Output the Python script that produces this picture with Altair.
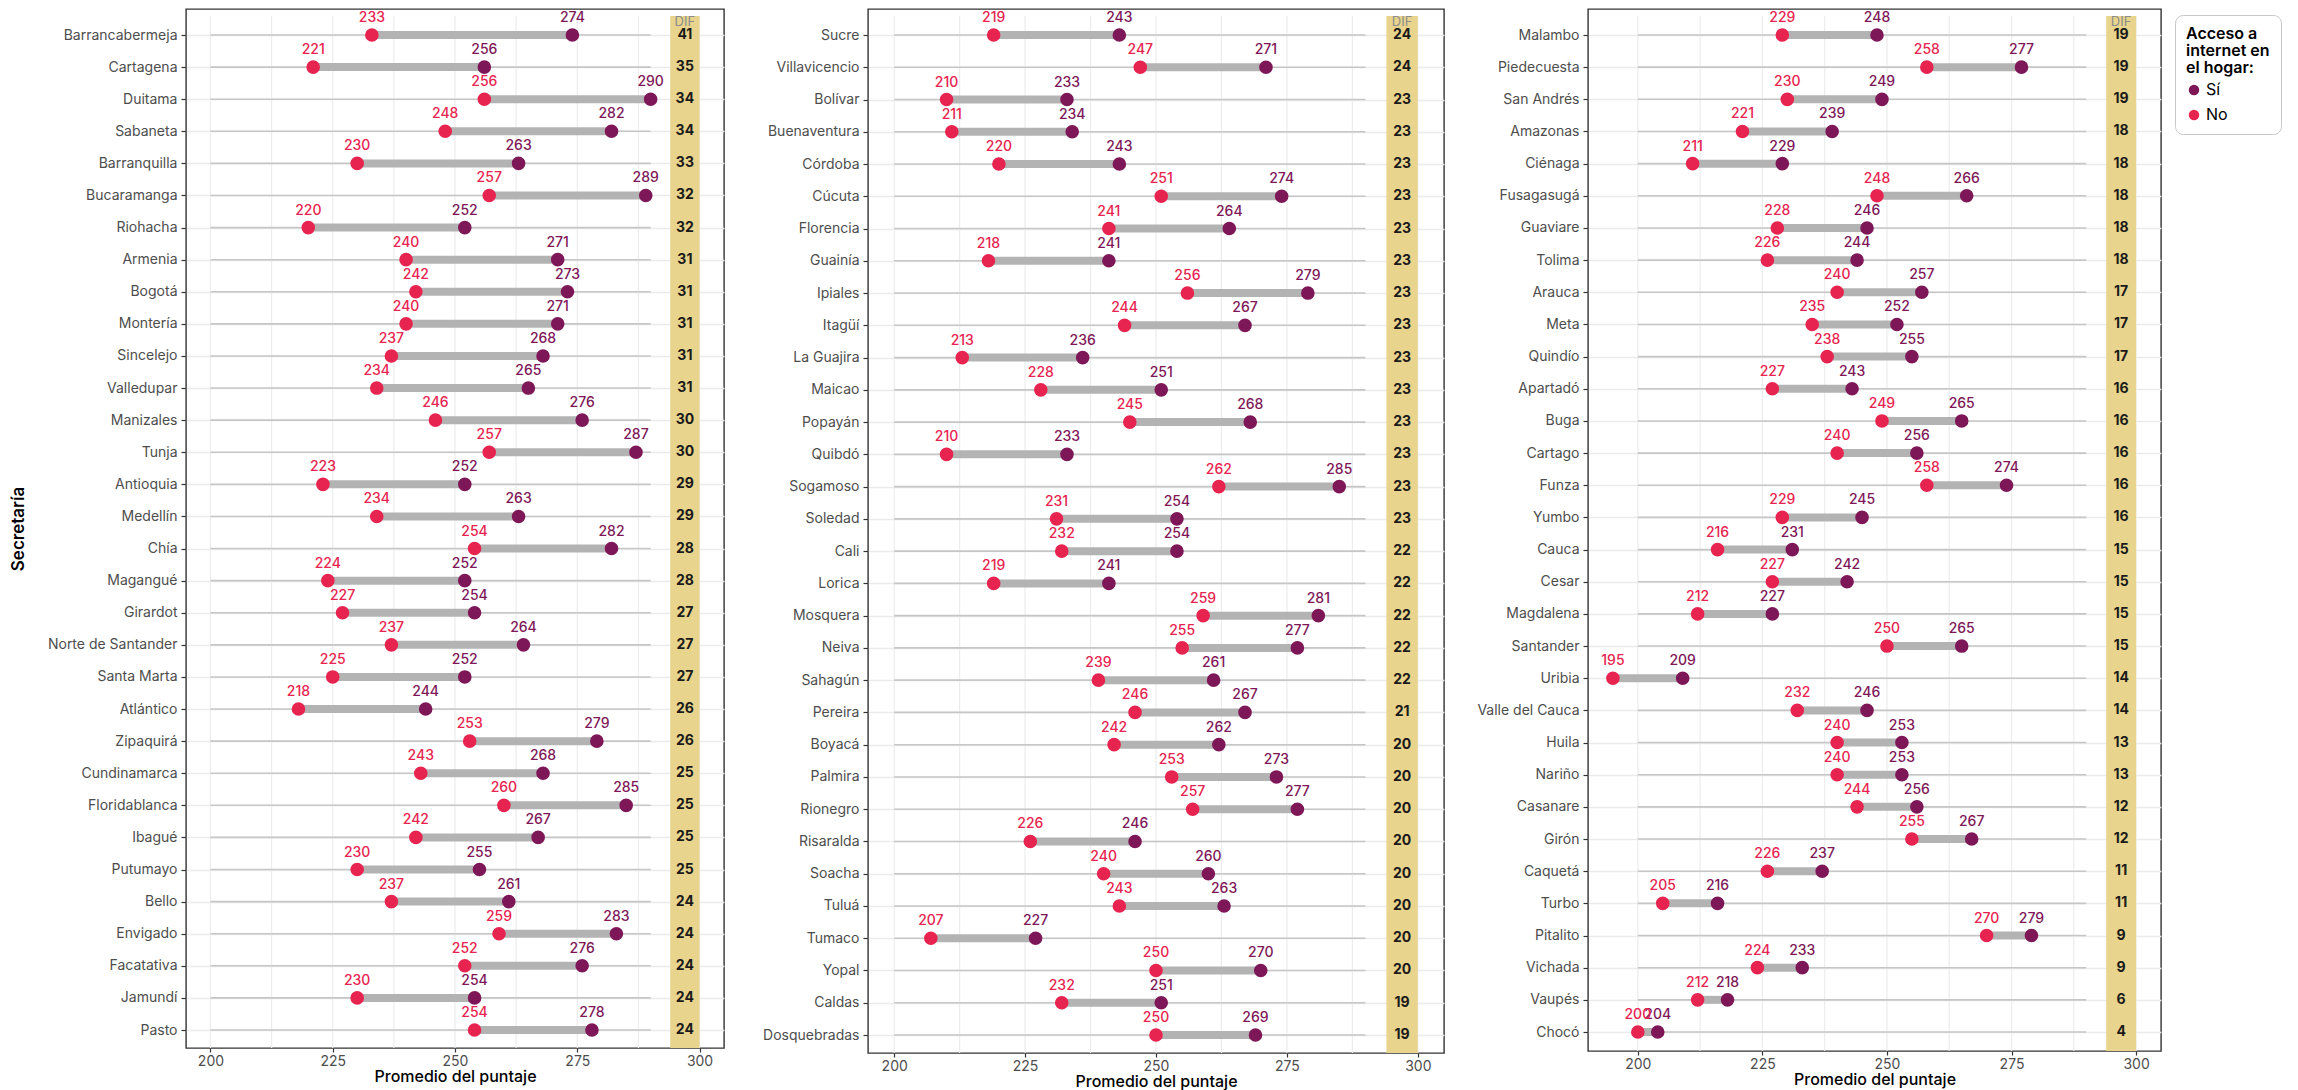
import altair as alt
import pandas as pd

# ---------------- data ----------------
P1_SEC = ["Barrancabermeja", "Cartagena", "Duitama", "Sabaneta", "Barranquilla", "Bucaramanga",
          "Riohacha", "Armenia", "Bogotá", "Montería", "Sincelejo", "Valledupar", "Manizales",
          "Tunja", "Antioquia", "Medellín", "Chía", "Magangué", "Girardot", "Norte de Santander",
          "Santa Marta", "Atlántico", "Zipaquirá", "Cundinamarca", "Floridablanca", "Ibagué",
          "Putumayo", "Bello", "Envigado", "Facatativa", "Jamundí", "Pasto"]
P1_NO = [233, 221, 256, 248, 230, 257, 220, 240, 242, 240, 237, 234, 246, 257, 223, 234,
         254, 224, 227, 237, 225, 218, 253, 243, 260, 242, 230, 237, 259, 252, 230, 254]
P1_SI = [274, 256, 290, 282, 263, 289, 252, 271, 273, 271, 268, 265, 276, 287, 252, 263,
         282, 252, 254, 264, 252, 244, 279, 268, 285, 267, 255, 261, 283, 276, 254, 278]
P1_DIF = [41, 35, 34, 34, 33, 32, 32, 31, 31, 31, 31, 31, 30, 30, 29, 29,
          28, 28, 27, 27, 27, 26, 26, 25, 25, 25, 25, 24, 24, 24, 24, 24]

P2_SEC = ["Sucre", "Villavicencio", "Bolívar", "Buenaventura", "Córdoba", "Cúcuta", "Florencia",
          "Guainía", "Ipiales", "Itagüí", "La Guajira", "Maicao", "Popayán", "Quibdó", "Sogamoso",
          "Soledad", "Cali", "Lorica", "Mosquera", "Neiva", "Sahagún", "Pereira", "Boyacá",
          "Palmira", "Rionegro", "Risaralda", "Soacha", "Tuluá", "Tumaco", "Yopal", "Caldas",
          "Dosquebradas"]
P2_NO = [219, 247, 210, 211, 220, 251, 241, 218, 256, 244, 213, 228, 245, 210, 262, 231,
         232, 219, 259, 255, 239, 246, 242, 253, 257, 226, 240, 243, 207, 250, 232, 250]
P2_SI = [243, 271, 233, 234, 243, 274, 264, 241, 279, 267, 236, 251, 268, 233, 285, 254,
         254, 241, 281, 277, 261, 267, 262, 273, 277, 246, 260, 263, 227, 270, 251, 269]
P2_DIF = [24, 24, 23, 23, 23, 23, 23, 23, 23, 23, 23, 23, 23, 23, 23, 23,
          22, 22, 22, 22, 22, 21, 20, 20, 20, 20, 20, 20, 20, 20, 19, 19]

P3_SEC = ["Malambo", "Piedecuesta", "San Andrés", "Amazonas", "Ciénaga", "Fusagasugá", "Guaviare",
          "Tolima", "Arauca", "Meta", "Quindío", "Apartadó", "Buga", "Cartago", "Funza", "Yumbo",
          "Cauca", "Cesar", "Magdalena", "Santander", "Uribia", "Valle del Cauca", "Huila",
          "Nariño", "Casanare", "Girón", "Caquetá", "Turbo", "Pitalito", "Vichada", "Vaupés",
          "Chocó"]
P3_NO = [229, 258, 230, 221, 211, 248, 228, 226, 240, 235, 238, 227, 249, 240, 258, 229,
         216, 227, 212, 250, 195, 232, 240, 240, 244, 255, 226, 205, 270, 224, 212, 200]
P3_SI = [248, 277, 249, 239, 229, 266, 246, 244, 257, 252, 255, 243, 265, 256, 274, 245,
         231, 242, 227, 265, 209, 246, 253, 253, 256, 267, 237, 216, 279, 233, 218, 204]
P3_DIF = [19, 19, 19, 18, 18, 18, 18, 18, 17, 17, 17, 16, 16, 16, 16, 16,
          15, 15, 15, 15, 14, 14, 13, 13, 12, 12, 11, 11, 9, 9, 6, 4]

GROUPS = ["Sí", "No"]
TICKS_X = [200, 225, 250, 275, 300]
GRID_X = [200, 212.5, 225, 237.5, 250, 262.5, 275, 287.5, 300]
ROW_LINE = [200, 290]
BAND_X = [294, 300]
DIF_X = 297

# ---------------- style ----------------
FONT = "Inter"
COL_SI = "#7E1758"
COL_NO = "#E7234F"
COL_BAND = "#E8D48C"
COL_SEG = "#B3B3B3"
COL_ROW = "#C6C6C6"


def panel(sec, no, si, dif, width, height, xdom, row_range, ytitle, legend):
    df = pd.DataFrame({"sec": sec, "no": no, "si": si, "dif": dif})
    base = alt.Chart(df)

    xs = alt.Scale(domain=xdom, nice=False, zero=False)
    xaxis = alt.Axis(values=TICKS_X, grid=False, domain=False, tickSize=4, tickColor="#333333",
                     tickWidth=1.2, labelFontSize=14, labelColor="#4D4D4D", labelPadding=2,
                     titleFontSize=16, titleFontWeight=500, titleColor="black", titlePadding=0)
    xtitle = "Promedio del puntaje"

    def X(field=None, datum=None):
        if datum is not None:
            return alt.X(datum=datum, type="quantitative", scale=xs, axis=xaxis, title=xtitle)
        return alt.X(field, type="quantitative", scale=xs, axis=xaxis, title=xtitle)

    if ytitle:
        yaxis = alt.Axis(grid=True, gridColor="#EBEBEB", gridWidth=1.5, domain=False, tickSize=5,
                         tickColor="#333333", tickWidth=1.2, labelFontSize=14,
                         labelColor="#4D4D4D", labelPadding=4, titleFontSize=17,
                         titleFontWeight=600, titleColor="black", titleAngle=270,
                         titleX=-168, titleY=height / 2, titleAlign="center",
                         titleBaseline="middle")
        yt = ytitle
    else:
        yaxis = alt.Axis(grid=True, gridColor="#EBEBEB", gridWidth=1.5, domain=False, tickSize=5,
                         tickColor="#333333", tickWidth=1.2, labelFontSize=14,
                         labelColor="#4D4D4D", labelPadding=4)
        yt = None
    Y = alt.Y("sec:N", sort=sec, scale=alt.Scale(type="point", range=row_range, padding=0),
              axis=yaxis, title=yt)

    if legend:
        leg = alt.Legend(title=["Acceso a", "internet en", "el hogar:"], orient="none",
                         legendX=width + 14, legendY=6, strokeColor="#C8C8C8", cornerRadius=8,
                         padding=11, fillColor="white", titleFontSize=16, titleFontWeight=600,
                         titleColor="black", titleLineHeight=17, titlePadding=6,
                         labelFontSize=16, labelColor="black", symbolType="circle",
                         symbolSize=110, symbolStrokeWidth=0, rowPadding=9, labelOffset=4)
    else:
        leg = None
    color = alt.Color("grupo:N", scale=alt.Scale(domain=GROUPS, range=[COL_SI, COL_NO]),
                      legend=leg)

    grid = alt.Chart(pd.DataFrame({"g": GRID_X})).mark_rule(
        color="#ECECEC", strokeWidth=1.2).encode(
        x=X("g"), y=alt.value(7), y2=alt.value(height))

    band = alt.Chart(pd.DataFrame({"a": [BAND_X[0]], "b": [BAND_X[1]]})).mark_rect(
        color=COL_BAND).encode(
        x=X("a"), x2="b:Q", y=alt.value(7), y2=alt.value(height))

    rowline = base.transform_calculate(a=str(ROW_LINE[0]), b=str(ROW_LINE[1])).mark_rule(
        color=COL_ROW, strokeWidth=1.6).encode(x=X("a"), x2="b:Q", y=Y)

    seg = base.mark_rule(color=COL_SEG, strokeWidth=8).encode(x=X("no"), x2="si:Q", y=Y)

    long = base.transform_fold(["si", "no"], as_=["k", "v"]).transform_calculate(
        grupo="datum.k == 'si' ? 'Sí' : 'No'")

    pts = long.mark_circle(size=185, opacity=1).encode(x=X("v"), y=Y, color=color)
    lbl = long.mark_text(dy=-17, fontSize=14, fontWeight=500, font=FONT).encode(
        x=X("v"), y=Y, text="v:Q", color=color)

    diftxt = base.mark_text(fontSize=14, fontWeight="bold", font=FONT, color="#1A1A1A").encode(
        x=X(datum=DIF_X), y=Y, text="dif:Q")

    difhead = alt.Chart(pd.DataFrame({"t": ["DIF"], "x": [DIF_X]})).mark_text(
        fontSize=13, font=FONT, color="#8C8C8C").encode(
        x=X("x"), y=alt.value(13), text="t:N")

    return alt.layer(grid, band, rowline, seg, pts, lbl, diftxt, difhead).properties(
        width=width, height=height)


p1 = panel(P1_SEC, P1_NO, P1_SI, P1_DIF, 538, 1039, [195, 305], [26, 1021], "Secretaría", False)
p2 = panel(P2_SEC, P2_NO, P2_SI, P2_DIF, 576, 1044, [195, 305], [26, 1026], None, False)
p3 = panel(P3_SEC, P3_NO, P3_SI, P3_DIF, 573, 1042, [190, 305], [26, 1023], None, True)

chart = alt.hconcat(p1, p2, p3, spacing=144, bounds="flush").resolve_scale(
    x="independent", y="independent", color="independent").resolve_legend(
    color="independent").configure(
    font=FONT, padding={"left": 0, "top": 0, "right": 0, "bottom": 0}).configure_view(
    stroke="#333333", strokeWidth=1.4)

chart.save("out.html", embed_options={"renderer": "svg", "actions": False})
